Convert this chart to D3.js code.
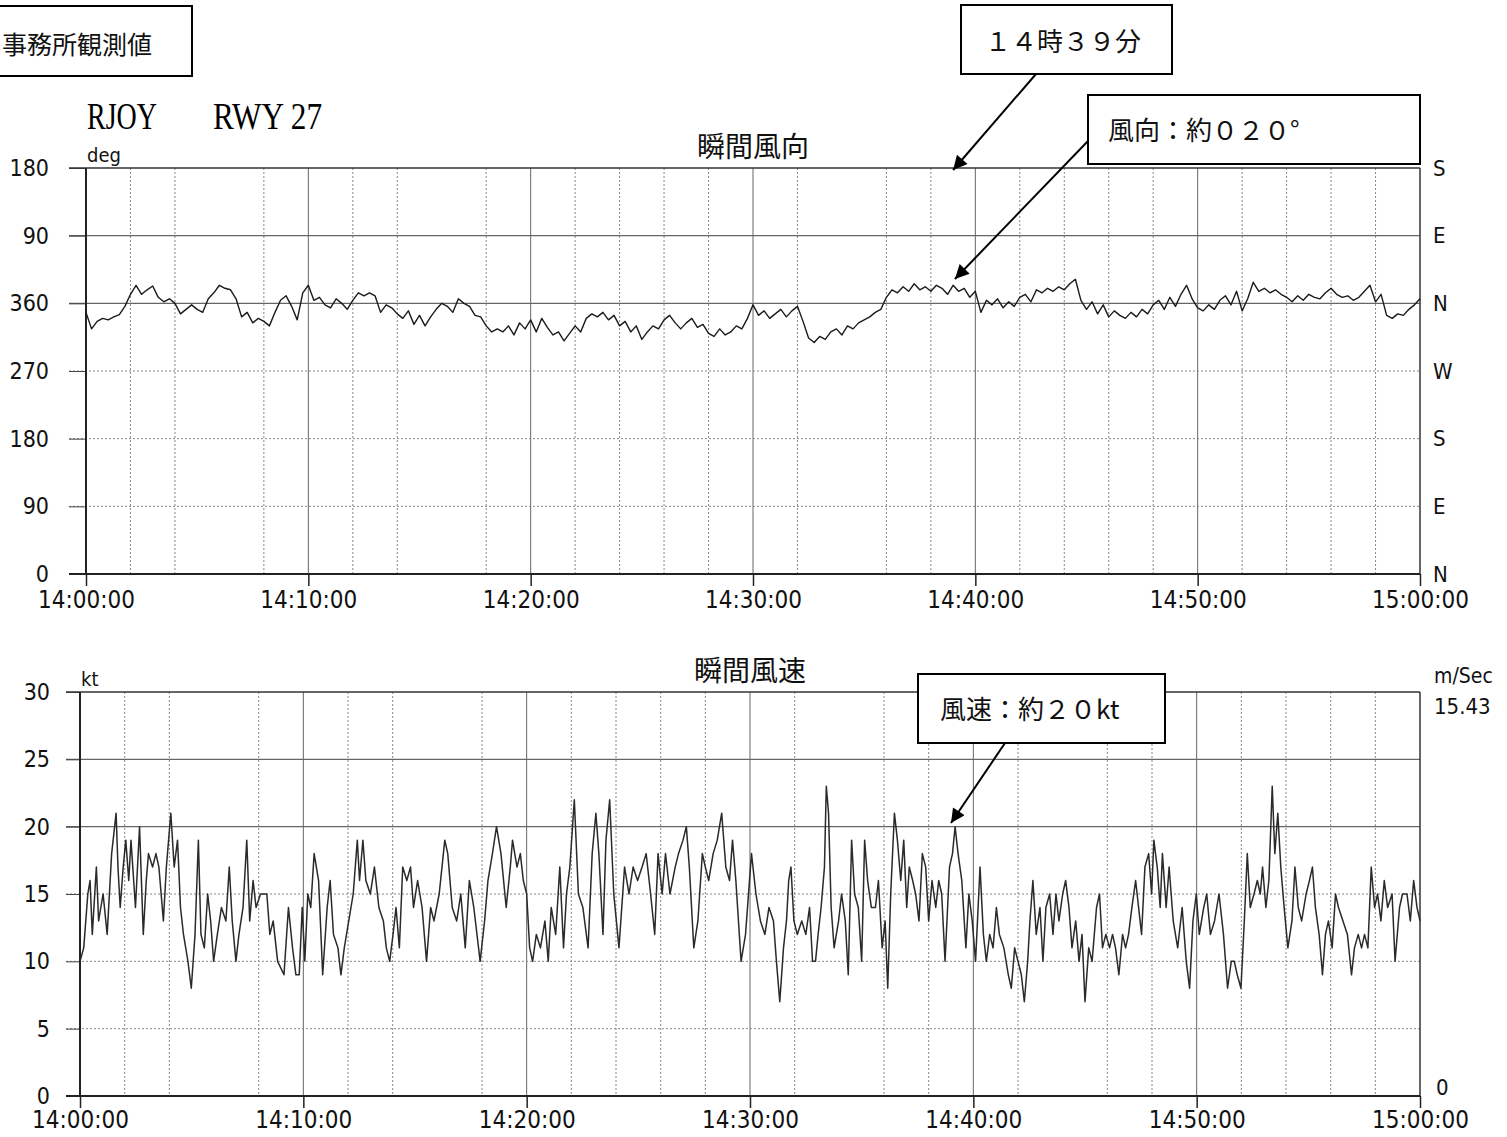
<!DOCTYPE html>
<html>
<head>
<meta charset="utf-8">
<style>
  body { margin: 0; background: #fff; }
  svg { display: block; }
  .num text, text.num { font-family: "DejaVu Sans Condensed", "DejaVu Sans", sans-serif; font-stretch: condensed; fill: #111; }
  .jp { font-family: "Noto Sans CJK JP", sans-serif; fill: #111; }
</style>
</head>
<body>
<svg></svg>
<script src="https://d3js.org/d3.v7.min.js"></script>
<script>
// --- data ---
// x axis: seconds after 14:00:00
var timeTicks = [0, 600, 1200, 1800, 2400, 3000, 3600];
var timeLabels = ["14:00:00", "14:10:00", "14:20:00", "14:30:00", "14:40:00", "14:50:00", "15:00:00"];

// 瞬間風向, one reading every 15 s, degrees true
var dirStep = 15;
var dirDeg = [
  348,326,336,340, 338,342,345,356, 12,24,12,18, 23,8,2,6, 0,346,352,358,
  352,348,6,14, 24,20,18,6, 342,348,334,340, 336,330,348,4, 10,356,338,14,
  24,4,8,358, 354,6,0,352, 4,14,10,14, 10,348,358,354, 346,340,350,332,
  344,330,342,352, 0,356,348,6, 0,356,344,342, 330,322,326,322, 330,318,334,326,
  338,322,340,328, 318,322,310,320, 330,322,340,346, 342,348,338,344, 330,336,322,330,
  312,322,330,326, 338,344,334,326, 334,340,328,332, 320,316,326,318, 322,330,326,340,
  358,344,350,340, 346,352,342,350, 356,336,314,308, 316,312,322,326, 318,330,326,334,
  338,342,348,352, 8,18,14,22, 16,26,18,22, 16,24,20,12, 24,16,20,8,
  16,348,4,358, 6,354,2,356, 8,12,2,18, 14,20,16,22, 18,26,32,4,
  352,2,346,358, 342,350,344,340, 348,342,352,346, 358,4,352,8, 356,12,24,6,
  354,350,358,352, 4,10,358,16, 350,6,28,16, 20,14,18,12, 8,2,10,4,
  12,8,6,14, 20,12,8,10, 4,8,16,24, 2,12,344,340, 346,344,352,358,
  6
];
var dirTicks = [0, 90, 180, 270, 360, 450, 540];
var dirLabels = ["0", "90", "180", "270", "360", "90", "180"];
var dirCompass = ["N", "E", "S", "W", "N", "E", "S"];

// 瞬間風速 (kt), time in seconds
var spdSec = [
  0,10,21,27,33,44,50,62,73,85,97,102,108,116,123,131,137,149,160,170,
  178,184,195,204,212,224,232,244,253,262,270,278,290,299,309,318,325,334,343,351,
  359,369,380,392,401,409,419,427,438,448,456,465,473,485,502,510,519,531,548,560,
  571,580,589,597,604,612,620,629,641,652,664,672,681,693,701,710,722,734,745,751,
  760,768,780,791,803,815,823,832,841,849,858,867,878,888,896,907,919,931,942,951,
  965,980,988,1000,1012,1023,1035,1046,1058,1075,1087,1096,1108,1119,1131,1145,1156,1162,1174,1183,
  1191,1200,1208,1216,1226,1237,1249,1258,1266,1278,1289,1299,1307,1316,1328,1339,1351,1365,1376,1386,
  1394,1405,1413,1423,1434,1448,1463,1475,1486,1498,1510,1521,1533,1544,1553,1564,1573,1585,1599,1608,
  1620,1629,1637,1649,1660,1672,1680,1689,1701,1712,1724,1735,1745,1753,1762,1776,1788,1804,1816,1828,
  1840,1851,1863,1871,1880,1890,1898,1904,1910,1918,1927,1939,1950,1960,1968,1976,1983,1991,2000,2005,
  2011,2018,2026,2038,2046,2056,2064,2073,2081,2091,2100,2108,2116,2126,2137,2145,2155,2163,2170,2178,
  2188,2196,2205,2213,2221,2228,2237,2245,2254,2263,2272,2280,2289,2299,2307,2315,2324,2336,2344,2351,
  2359,2369,2380,2388,2397,2406,2418,2427,2435,2444,2453,2462,2470,2482,2494,2502,2511,2520,2529,2537,
  2546,2552,2560,2569,2579,2587,2595,2605,2614,2622,2630,2640,2648,2657,2665,2675,2684,2692,2700,2710,
  2719,2731,2739,2747,2756,2766,2774,2782,2791,2801,2809,2817,2826,2836,2844,2852,2861,2871,2879,2885,
  2894,2902,2908,2918,2926,2937,2949,2961,2972,2981,2990,2999,3007,3019,3027,3037,3048,3060,3072,3083,
  3093,3101,3109,3119,3128,3136,3144,3154,3163,3171,3177,3186,3194,3203,3210,3218,3226,3235,3245,3256,
  3264,3273,3282,3294,3303,3311,3319,3329,3338,3346,3354,3364,3373,3381,3393,3405,3416,3424,3434,3443,
  3451,3460,3469,3478,3486,3495,3504,3513,3525,3533,3545,3553,3565,3574,3583,3592,3600
];
var spdKt = [
  10,11,15,16,12,17,13,15,12,18,21,17,14,17,19,16,19,14,20,12,
  16,18,17,18,17,13,17,21,17,19,14,12,10,8,12,19,12,11,15,13,
  10,12,14,13,17,13,10,12,14,19,13,16,14,15,15,12,13,10,9,14,
  11,9,9,14,10,15,14,18,16,9,14,16,12,11,9,11,13,15,19,16,
  19,16,15,17,14,13,11,10,12,14,11,17,16,17,14,16,14,10,14,13,
  15,19,18,14,13,15,11,16,14,10,13,16,18,20,18,14,17,19,17,18,
  16,15,11,10,12,11,13,10,14,12,17,11,15,17,22,15,14,11,18,21,
  18,12,19,22,15,11,17,15,17,16,17,18,15,12,18,15,18,15,17,18,
  19,20,17,11,13,18,17,16,18,19,21,17,16,19,16,10,12,18,15,13,
  12,14,13,10,7,11,13,16,17,13,12,13,12,14,10,10,12,14,17,23,
  21,14,11,13,15,13,9,19,15,14,10,19,16,14,14,16,11,13,8,15,
  21,19,16,19,14,17,16,15,13,18,17,13,16,14,16,15,10,17,18,20,
  18,16,11,15,13,10,17,12,10,12,11,14,12,11,9,8,11,10,9,7,
  10,13,16,12,14,10,14,15,12,15,13,15,16,14,11,13,10,12,7,11,
  10,14,15,11,12,11,12,11,9,12,11,12,14,16,14,12,17,18,15,19,
  17,14,18,14,17,13,11,14,10,8,13,15,12,14,15,12,13,15,12,8,
  10,10,9,8,13,18,14,15,16,15,17,14,16,23,18,21,17,14,11,13,
  17,14,13,15,16,17,14,12,9,12,13,11,15,14,13,12,9,11,12,11,
  12,11,17,14,15,13,16,14,15,10,14,15,15,13,16,14,13
];
var spdTicks = [0, 5, 10, 15, 20, 25, 30];

// vertical dotted grid, minutes (some lines are missing in the original print)
var dirGridMin = [2,4,8,10,12,14,18,20,22,24,26,28,30,32,36,38,40,42,44,46,48,50,52,54,56,58];
var spdGridMin = [2,4,8,10,12,14,18,20,22,24,26,28,30,32,36,38,40,42,46,48,50,52,54,56,58];

var svg = d3.select("svg").attr("width", 1507).attr("height", 1137);

var defs = svg.append("defs");
defs.append("marker")
  .attr("id", "arrow")
  .attr("viewBox", "0 0 10 10")
  .attr("refX", 10).attr("refY", 5)
  .attr("markerWidth", 16).attr("markerHeight", 14)
  .attr("markerUnits", "userSpaceOnUse")
  .attr("orient", "auto")
  .append("path").attr("d", "M0,0 L10,5 L0,10 z").attr("fill", "#000");

function panel(p) {
  var x = d3.scaleLinear().domain([0, 3600]).range([p.left, p.right]);
  var y = d3.scaleLinear().domain(p.yDomain).range([p.bottom, p.top]);
  var g = svg.append("g");

  // vertical grid
  g.selectAll(".vg").data(p.gridMin).join("line")
    .attr("x1", m => x(m * 60)).attr("x2", m => x(m * 60))
    .attr("y1", p.top).attr("y2", p.bottom)
    .attr("stroke", m => m % 10 == 0 ? "#666" : "#888")
    .attr("stroke-width", 1)
    .attr("stroke-dasharray", m => m % 10 == 0 ? null : "2,2");

  // horizontal grid (extends left of the axis)
  g.selectAll(".hg").data(p.yTicks.slice(1, -1)).join("line")
    .attr("x1", p.left - p.tickOut).attr("x2", p.right)
    .attr("y1", v => y(v)).attr("y2", v => y(v))
    .attr("stroke", v => p.solidY.includes(v) ? "#666" : "#888")
    .attr("stroke-width", v => p.solidY.includes(v) ? 1.4 : 1)
    .attr("stroke-dasharray", v => p.solidY.includes(v) ? null : "2,2");

  // left axis labels
  g.append("g").attr("class", "num")
    .attr("transform", "translate(" + p.left + ",0)")
    .call(d3.axisLeft(y).tickValues(p.yTicks).tickFormat(p.yFmt).tickSize(p.tickOut).tickPadding(p.labPad))
    .call(a => a.select(".domain").remove())
    .call(a => a.selectAll("line").attr("stroke", "#444"))
    .call(a => a.selectAll("text").attr("font-size", 23));

  // frame
  g.append("line").attr("x1", p.left - p.tickOut).attr("x2", p.right)
    .attr("y1", p.top).attr("y2", p.top).attr("stroke", "#333").attr("stroke-width", 1.5);
  g.append("line").attr("x1", p.right).attr("x2", p.right)
    .attr("y1", p.top).attr("y2", p.bottom).attr("stroke", "#333").attr("stroke-width", 1.5);
  g.append("line").attr("x1", p.left).attr("x2", p.left)
    .attr("y1", p.top).attr("y2", p.bottom).attr("stroke", "#222").attr("stroke-width", 2);

  // time axis
  g.append("g").attr("class", "num")
    .attr("transform", "translate(0," + p.bottom + ")")
    .call(d3.axisBottom(x).tickValues(timeTicks).tickFormat((d, i) => timeLabels[i]).tickSize(12).tickPadding(p.timePad))
    .call(a => a.select(".domain").attr("d", "M" + (p.left - p.tickOut) + ",0H" + p.right).attr("stroke", "#222").attr("stroke-width", 2.2))
    .call(a => a.selectAll("line").attr("stroke", "#222").attr("stroke-width", 1.5))
    .call(a => a.selectAll("text").attr("font-size", 24));

  // series
  g.append("path")
    .attr("d", d3.line().x(d => x(d[0])).y(d => y(d[1]))(p.points))
    .attr("fill", "none")
    .attr("stroke", p.lineColor)
    .attr("stroke-width", p.lineWidth)
    .attr("stroke-linejoin", "round");

  // unit and title
  g.append("text").attr("class", "num").attr("x", p.left + 1).attr("y", p.top - 6)
    .attr("font-size", 20).text(p.unit);
  g.append("text").attr("class", "jp").attr("x", (p.left + p.right) / 2).attr("y", p.top - 11)
    .attr("text-anchor", "middle").attr("font-size", 28).text(p.title);

  return { x: x, y: y, g: g };
}

// ---- 瞬間風向 ----
var dirPts = dirDeg.map((d, i) => [i * dirStep, d < 180 ? d + 360 : d]);
var dirPanel = panel({
  left: 86, right: 1420, top: 168, bottom: 574, tickOut: 17, labPad: 20, timePad: 5,
  yDomain: [0, 540], yTicks: dirTicks, yFmt: (d, i) => dirLabels[i],
  solidY: [360, 450], gridMin: dirGridMin, points: dirPts,
  lineColor: "#1a1a1a", lineWidth: 1.4, unit: "deg", title: "瞬間風向"
});
dirPanel.g.append("g").attr("class", "num")
  .attr("transform", "translate(1420,0)")
  .call(d3.axisRight(dirPanel.y).tickValues(dirTicks).tickFormat((d, i) => dirCompass[i]).tickSize(0).tickPadding(13))
  .call(a => a.select(".domain").remove())
  .call(a => a.selectAll("text").attr("font-size", 22));

// ---- 瞬間風速 ----
var spdPts = spdSec.map((s, i) => [s, spdKt[i]]);
var spdPanel = panel({
  left: 80, right: 1420, top: 692, bottom: 1096, tickOut: 14, labPad: 16, timePad: 3,
  yDomain: [0, 30], yTicks: spdTicks, yFmt: d => d,
  solidY: [20, 25], gridMin: spdGridMin, points: spdPts,
  lineColor: "#2a2a2a", lineWidth: 1.5, unit: "kt", title: "瞬間風速"
});
spdPanel.g.append("text").attr("class", "num").attr("x", 1434).attr("y", 683).attr("font-size", 21).text("m/Sec");
spdPanel.g.append("text").attr("class", "num").attr("x", 1434).attr("y", 714).attr("font-size", 22).text("15.43");
spdPanel.g.append("text").attr("class", "num").attr("x", 1436).attr("y", 1095).attr("font-size", 22).text("0");

// station header
svg.append("text").attr("x", 87).attr("y", 129)
  .attr("font-family", "Liberation Serif, serif").attr("font-size", 38)
  .attr("textLength", 70).attr("lengthAdjust", "spacingAndGlyphs").text("RJOY");
svg.append("text").attr("x", 213).attr("y", 129)
  .attr("font-family", "Liberation Serif, serif").attr("font-size", 38)
  .attr("textLength", 109).attr("lengthAdjust", "spacingAndGlyphs").text("RWY 27");

// annotation boxes
function box(x0, y0, w, h, tx, ty, label, fs) {
  svg.append("rect").attr("x", x0).attr("y", y0).attr("width", w).attr("height", h)
    .attr("fill", "#fff").attr("stroke", "#000").attr("stroke-width", 2);
  svg.append("text").attr("class", "jp").attr("x", tx).attr("y", ty)
    .attr("font-size", fs || 26).text(label);
}
function arrow(x1, y1, x2, y2) {
  svg.append("line").attr("x1", x1).attr("y1", y1).attr("x2", x2).attr("y2", y2)
    .attr("stroke", "#000").attr("stroke-width", 2).attr("marker-end", "url(#arrow)");
}

box(-20, 6, 212, 70, 2, 54, "事務所観測値", 25);
box(961, 5, 211, 69, 985, 51, "１４時３９分");
arrow(1036, 74, dirPanel.x(39 * 60), 170);
box(1088, 95, 332, 69, 1108, 140, "風向：約０２０°");
arrow(1088, 141, dirPanel.x(39 * 60 + 5), 279);
box(918, 674, 247, 69, 940, 719, "風速：約２０kt");
arrow(1005, 743, spdPanel.x(39 * 60), 823);
</script>
</body>
</html>
